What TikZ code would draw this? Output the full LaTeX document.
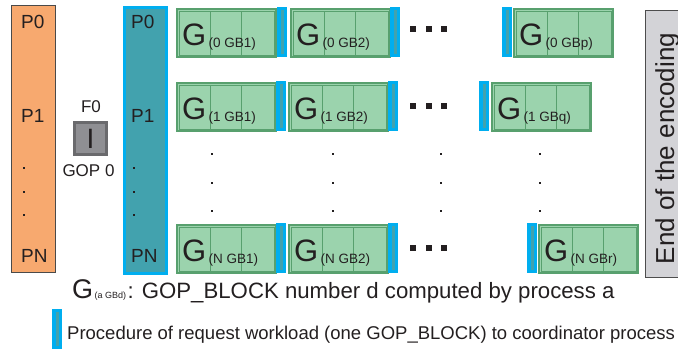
\documentclass[tikz,border=0pt]{standalone}
\usepackage{fontspec}
\setmainfont{Liberation Sans}
\definecolor{orangeF}{HTML}{F7A96F}
\definecolor{orangeD}{HTML}{4A4A4A}
\definecolor{tealF}{HTML}{42A2AE}
\definecolor{cyanB}{HTML}{00AEEF}
\definecolor{greenF}{HTML}{9BD3AD}
\definecolor{greenD}{HTML}{58A06E}
\definecolor{grayF}{HTML}{8F8F93}
\definecolor{grayD}{HTML}{6A6A6D}
\definecolor{endF}{HTML}{D3D3D7}
\definecolor{endD}{HTML}{4D4D4D}
\definecolor{inkC}{HTML}{231F20}
\tikzset{
  gblock/.style={draw=greenD, fill=greenF, line width=2pt, minimum width=99pt, minimum height=48pt, inner sep=0pt},
  gin/.style={draw=greenD, line width=0.8pt},
  cbar/.style={fill=cyanB, minimum width=10pt, minimum height=50pt, inner sep=0pt},
  cstrip/.style={fill=tealF, minimum width=3pt, inner sep=0pt},
  gletter/.style={inner sep=0pt, font=\fontsize{31}{31}\selectfont, text=inkC},
  gsubscr/.style={inner sep=0pt, font=\fontsize{13.5}{14}\selectfont, text=inkC},
  plabel/.style={inner sep=0pt, anchor=west, font=\fontsize{19}{19}\selectfont, text=inkC},
  bigdot/.style={fill=inkC, minimum size=6pt, inner sep=0pt},
  smalldot/.style={fill=inkC, minimum size=2pt, inner sep=0pt},
}
% one GOP_BLOCK: name, left, top, subscript
\newcommand\gopblk[4]{%
  \node[gblock, anchor=north west] (#1) at (#2+1,#3+1) {};
  \draw[gin] ([xshift=3pt,yshift=-3pt]#1.north west) rectangle ([xshift=-3pt,yshift=3pt]#1.south east);
  \draw[gin] ([xshift=34pt,yshift=-3pt]#1.north west) -- ([xshift=34pt,yshift=3pt]#1.south west);
  \draw[gin] ([xshift=65.5pt,yshift=-3pt]#1.north west) -- ([xshift=65.5pt,yshift=3pt]#1.south west);
  \node[gletter, anchor=base west] (#1-G) at ([xshift=6pt,yshift=-37pt]#1.north west) {G};
  \node[gsubscr, anchor=base west] (#1-s) at ([xshift=2pt,yshift=-2pt]#1-G.base east) {(#4)};
}
% request bar: name, left, top
\newcommand\reqbar[3]{%
  \node[cbar, anchor=north west] (#1) at (#2,#3) {};
  \node[cstrip, minimum height=44pt] (#1-in) at (#1.center) {};
}
\begin{document}
\begin{tikzpicture}[x=1pt,y=-1pt]
\useasboundingbox (0,0) rectangle (678,359);

% process column
\node[draw=orangeD, fill=orangeF, line width=0.8pt, minimum width=44pt, minimum height=267pt, inner sep=0pt, anchor=north west] (procs) at (11,5) {};
\node[plabel] (pa0) at (21,22) {P0};
\node[plabel] (pa1) at (21,116) {P1};
\node[plabel] (paN) at (21,256) {PN};
\foreach \yy [count=\i] in {168,192,215} \node[smalldot] (pad\i) at (24,\yy) {};

% first frame
\node[inner sep=0pt, font=\fontsize{17}{17}\selectfont, text=inkC] (f0) at (91,107) {F0};
\node[draw=grayD, fill=grayF, line width=3pt, minimum size=32pt, inner sep=0pt, font=\fontsize{28}{28}\selectfont, text=inkC] (iframe) at (90.5,138.5) {I};
\node[inner sep=0pt, font=\fontsize{17}{17}\selectfont, text=inkC] (gop0) at (88.5,170.5) {GOP 0};

% coordinator column
\node[draw=cyanB, fill=tealF, line width=3pt, minimum width=42pt, minimum height=266pt, inner sep=0pt, anchor=north west] (coord) at (122.5,5.5) {};
\node[plabel] (pb0) at (131,22) {P0};
\node[plabel] (pb1) at (131,116) {P1};
\node[plabel] (pbN) at (131,256) {PN};
\foreach \yy [count=\i] in {168,192,215} \node[smalldot] (pbd\i) at (134,\yy) {};

% row of process 0
\gopblk{g01}{175}{7}{0 GB1}
\reqbar{r01}{277}{7}
\gopblk{g02}{289}{7}{0 GB2}
\reqbar{r02}{390}{7}
\reqbar{r0p}{502}{7}
\gopblk{g0p}{512}{7}{0 GBp}

% row of process 1
\gopblk{g11}{175}{81}{1 GB1}
\reqbar{r11}{276}{81}
\gopblk{g12}{287}{81}{1 GB2}
\reqbar{r12}{388}{81}
\reqbar{r1q}{479}{81}
\gopblk{g1q}{490}{81}{1 GBq}

% row of process N
\gopblk{gN1}{175}{223}{N GB1}
\reqbar{rN1}{276}{223}
\gopblk{gN2}{287}{223}{N GB2}
\reqbar{rN2}{388}{223}
\reqbar{rNr}{527}{223}
\gopblk{gNr}{537}{223}{N GBr}

% ellipses along the rows
\foreach \yy [count=\r] in {29,106,248}
  \foreach \xx [count=\k] in {413,429,444}
    \node[bigdot] (hd\r-\k) at (\xx,\yy) {};

% ellipses down the columns
\foreach \xx [count=\c] in {212,333,441,540}
  \foreach \yy [count=\k] in {154,183,211}
    \node[smalldot] (vd\c-\k) at (\xx,\yy) {};

% end of the encoding
\node[draw=endD, fill=endF, line width=1pt, minimum width=45pt, minimum height=267pt, inner sep=0pt, anchor=north west] (endbox) at (645,10) {};
\node[rotate=90, anchor=base, inner sep=0pt, font=\fontsize{26}{26}\selectfont, text=inkC] (endtxt) at (674,148.5) {End of the encoding};

% legend
\node[gletter, anchor=base west, font=\fontsize{27}{27}\selectfont] (legG) at (72,298) {G};
\node[gsubscr, anchor=base west, font=\fontsize{9}{9}\selectfont] (legsub) at ([xshift=1pt]legG.base east) {(a GBd)};
\node[inner sep=0pt, anchor=base west, font=\fontsize{22.2}{22.2}\selectfont, text=inkC] (legtxt) at ([xshift=1pt]legsub.base east) {: GOP\_BLOCK number d computed by process a};

\node[cbar, minimum height=40pt, anchor=north west] (legbar) at (52,309) {};
\node[cstrip, minimum height=34pt] (legbar-in) at (legbar.center) {};
\node[inner sep=0pt, anchor=base west, font=\fontsize{18.5}{18.5}\selectfont, text=inkC] (legtxt2) at (67,339) {Procedure of request workload (one GOP\_BLOCK) to coordinator process};
\end{tikzpicture}
\end{document}
